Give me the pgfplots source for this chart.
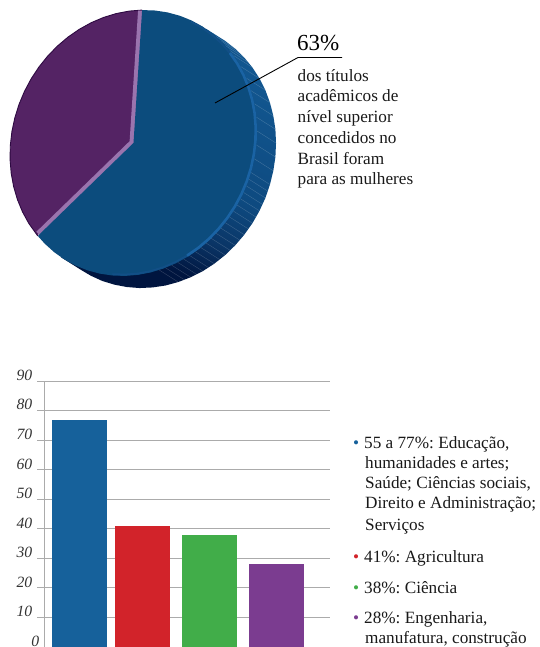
\documentclass[border=0pt]{standalone}
\usepackage{pgfplots}
\pgfplotsset{compat=1.18}
\usepgfplotslibrary{polar}
\usepackage{fontspec}
\setmainfont{Liberation Serif}

\definecolor{faceblue}{HTML}{0C4C7D}
\definecolor{rimblue}{HTML}{1A63A4}
\definecolor{rimfade}{HTML}{124F87}
\definecolor{sidetop}{HTML}{12568F}
\definecolor{sidemid}{HTML}{0E4A80}
\definecolor{sidenavy}{HTML}{0A3566}
\definecolor{sidelow}{HTML}{00153F}
\definecolor{facepurple}{HTML}{542364}
\definecolor{edgepurple}{HTML}{2E0A42}
\definecolor{lightpurple}{HTML}{9A74AE}
\definecolor{barblue}{HTML}{16619B}
\definecolor{barred}{HTML}{D2232A}
\definecolor{bargreen}{HTML}{41AD49}
\definecolor{barpurple}{HTML}{7B3C90}
\definecolor{gridgray}{HTML}{ABABAB}

\pgfdeclareverticalshading{sidewall}{100bp}{
  color(0bp)=(sidelow); color(29bp)=(sidelow); color(37bp)=(sidenavy);
  color(47bp)=(sidemid); color(70bp)=(sidetop); color(100bp)=(sidetop)}

\newcommand{\bodysize}{\fontsize{17.2}{20.6}\selectfont}

\begin{document}
\frenchspacing
\begin{tikzpicture}[x=1pt,y=1pt]
\path[use as bounding box] (0,0) rectangle (539,647);

% Tilted disc: unit circle sheared by the axis vectors.
% Women's share 63% runs clockwise from 86 deg, i.e. down to 86 - 0.63*360 = -140.8 deg.
\begin{axis}[
  at={(133.5pt,504pt)}, anchor=origin,
  x={(123.5pt,12pt)}, y={(0pt,132.4pt)},
  xmin=-1.4, xmax=1.4, ymin=-1.4, ymax=1.4,
  hide axis, clip=false]
% side wall of the disc
\addplot[draw=none, shading=sidewall, shading angle=-20]
  coordinates {(.588,.809)(.742,.704)(.823,.638)(.897,.564)(.963,.483)(1.020,.395)(1.068,.302)
  (1.105,.204)(1.132,.103)(1.149,0)(1.154,-.105)(1.149,-.21)(1.132,-.313)(1.105,-.414)(1.068,-.512)
  (1.020,-.605)(.963,-.693)(.897,-.774)(.823,-.848)(.742,-.914)(.654,-.971)(.561,-1.019)(.463,-1.056)
  (.362,-1.083)(.259,-1.100)(.154,-1.105)(.049,-1.100)(-.054,-1.083)(-.155,-1.056)(-.253,-1.019)
  (-.346,-.971)(-.434,-.914)(-.588,-.809)} -- cycle;
% hatching on the side wall
\addplot[white, opacity=.2, line width=.4pt, mark=none, quiver={u=.154,v=-.105}]
  coordinates {(.669,.743)(.707,.707)(.743,.669)(.777,.629)(.809,.588)(.866,.5)(.914,.407)(.951,.309)(.978,.208)(.995,.105)(1,0)
  (.995,-.105)(.978,-.208)(.951,-.309)(.934,-.358)(.914,-.407)(.891,-.454)(.866,-.5)(.839,-.545)(.809,-.588)(.777,-.629)(.743,-.669)(.707,-.707)(.669,-.743)(.629,-.777)
  (.588,-.809)(.545,-.839)(.5,-.866)(.454,-.891)(.407,-.914)(.358,-.934)(.309,-.951)(.259,-.966)(.208,-.978)};
% purple sector (37%)
\addplot[data cs=polar, fill=facepurple, draw=edgepurple, line width=.9pt]
  coordinates {(86,1)(92,1)(98,1)(104,1)(110,1)(116,1)(122,1)(128,1)(134,1)(140,1)(146,1)(152,1)
  (158,1)(164,1)(170,1)(176,1)(182,1)(188,1)(194,1)(200,1)(206,1)(212,1)(219.2,1)};
\addplot[data cs=polar, fill=facepurple, draw=none]
  coordinates {(0,0)(86,.98)(104,.98)(122,.98)(140,.98)(158,.98)(176,.98)(194,.98)(212,.98)(219.2,.98)} -- cycle;
% pale edges of the cut
\addplot[data cs=polar, lightpurple, line width=8pt]
  coordinates {(219.2,.985)(0,0)(86,.995)};
% blue sector (63%)
\addplot[data cs=polar, fill=faceblue, draw=none]
  coordinates {(0,0)(86,1)(80,1)(74,1)(68,1)(62,1)(56,1)(50,1)(44,1)(38,1)(32,1)(26,1)(20,1)(14,1)(8,1)(2,1)
  (-4,1)(-10,1)(-16,1)(-22,1)(-28,1)(-34,1)(-40,1)(-46,1)(-52,1)(-58,1)(-64,1)(-70,1)(-76,1)(-82,1)(-88,1)
  (-94,1)(-100,1)(-106,1)(-112,1)(-118,1)(-124,1)(-130,1)(-136,1)(-140.8,1)} -- cycle;
% lighter lip of the blue face
\addplot[data cs=polar, rimfade, line width=1.8pt]
  coordinates {(62,.99)(56,.99)(50,.99)(44,.99)(38,.99)};
\addplot[data cs=polar, rimfade, line width=1.8pt]
  coordinates {(-64,.99)(-70,.99)(-76,.99)(-82,.99)(-88,.99)(-94,.99)(-100,.99)};
\addplot[data cs=polar, rimblue, line width=2.6pt]
  coordinates {(38,.99)(32,.99)(26,.99)(20,.99)(14,.99)(8,.99)(2,.99)(-4,.99)(-10,.99)(-16,.99)(-22,.99)
  (-28,.99)(-34,.99)(-40,.99)(-46,.99)(-52,.99)(-58,.99)(-64,.99)};
\end{axis}

% Share by field of study
\begin{axis}[
  at={(44.3pt,0pt)}, anchor=south west,
  scale only axis, width=285.7pt, height=265.7pt,
  xmin=0, xmax=285.7, ymin=0, ymax=90,
  axis x line=none, axis y line=left,
  axis line style={-, gridgray, line width=1pt},
  xtick=\empty,
  ytick={10,20,30,40,50,60,70,80,90},
  extra y ticks={0},
  extra tick style={grid=none, major tick length=0pt},
  ymajorgrids,
  grid style={gridgray, line width=1pt},
  tick align=outside, major tick length=7pt,
  tick style={gridgray, line width=1pt},
  /pgf/number format/assume math mode=true,
  yticklabel style={font=\fontsize{15.7}{16}\selectfont\itshape, text=black!80, yshift=6pt, xshift=-1.5pt, inner ysep=0pt},
  clip=false]
\addplot[ybar, bar width=55pt, fill=barblue, draw=none] coordinates {(35.2,77)};
\addplot[ybar, bar width=55pt, fill=barred, draw=none] coordinates {(98.2,41)};
\addplot[ybar, bar width=55pt, fill=bargreen, draw=none] coordinates {(165.2,38)};
\addplot[ybar, bar width=55pt, fill=barpurple, draw=none] coordinates {(232.2,28)};
\end{axis}

% Callout
\draw[black, line width=.9pt] (215,544) -- (298,589.5) -- (342,589.5);
\node[anchor=base west, inner sep=0pt, font=\fontsize{23}{23}\selectfont] at (297,596) {63\%};
\begin{scope}[every node/.style={anchor=base west, inner sep=0pt, font=\bodysize, text=black!90}]
\node at (297.5,565.5) {dos títulos};
\node at (297.5,545) {acadêmicos de};
\node at (297.5,524.5) {nível superior};
\node at (297.5,503.5) {concedidos no};
\node at (297.5,482.5) {Brasil foram};
\node at (297.5,462.5) {para as mulheres};

% Key to the bars
\node at (364,198) {55 a 77\%: Educação,};
\node at (365,178) {humanidades e artes;};
\node at (365,158) {Saúde; Ciências sociais,};
\node at (365,138) {Direito e Administração;};
\node at (365,116) {Serviços};
\node at (364,84) {41\%: Agricultura};
\node at (364,53.5) {38\%: Ciência};
\node at (364,23) {28\%: Engenharia,};
\node at (365,3.5) {manufatura, construção};
\node[text=barblue] at (353,198) {•};
\node[text=barred] at (353,84) {•};
\node[text=bargreen] at (353,53.5) {•};
\node[text=barpurple] at (353,23) {•};
\end{scope}
\end{tikzpicture}
\end{document}
